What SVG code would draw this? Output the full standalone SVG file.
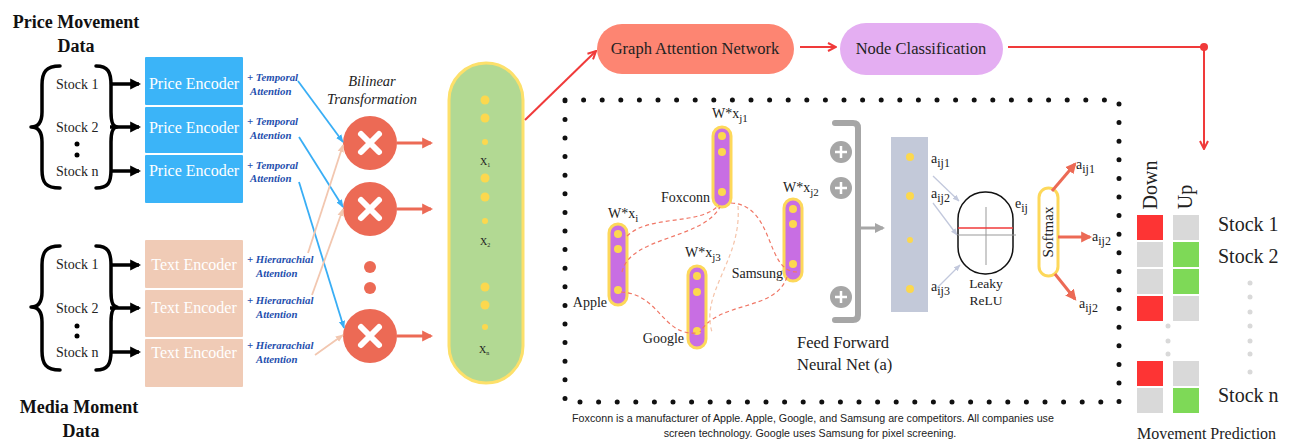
<svg xmlns="http://www.w3.org/2000/svg" width="1290" height="440" viewBox="0 0 1290 440">
<style>
.serif{font-family:"Liberation Serif","DejaVu Serif",serif;fill:#222}
.title{font-family:"Liberation Serif",serif;font-weight:bold;font-size:18px;fill:#111;text-anchor:middle}
.stk{font-family:"Liberation Serif",serif;font-size:14px;fill:#222}
.enc{font-family:"Liberation Serif",serif;font-size:16px;fill:#fff;text-anchor:middle}
.att{font-family:"Liberation Serif",serif;font-size:10.8px;font-weight:bold;font-style:italic;fill:#1f4fae}
.brace{fill:none;stroke:#000;stroke-width:3.5;stroke-linecap:round;stroke-linejoin:round}
.blk{stroke:#000;stroke-width:3.5;fill:none}
.blue{stroke:#39aef5;stroke-width:1.8;fill:none}
.peach{stroke:#f2c7b0;stroke-width:1.8;fill:none}
.coral{stroke:#ec6a55;stroke-width:3;fill:none}
.red{stroke:#f03a3a;stroke-width:2;fill:none}
.ydot{fill:#fcd84e}
.vec{fill:#c86ee3;stroke:#fdd85a;stroke-width:3}
.lbl{font-family:"Liberation Serif",serif;font-size:14px;fill:#222}
.dash{fill:none;stroke:#f07766;stroke-width:1.2;stroke-dasharray:4 3}
.dashl{fill:none;stroke:#f5c4aa;stroke-width:1.2;stroke-dasharray:4 3}
.gdot{fill:#d9d9d9}
</style>
<defs>
<marker id="mBlk" viewBox="0 0 10 10" refX="8" refY="5" markerWidth="11" markerHeight="12" markerUnits="userSpaceOnUse" orient="auto"><path d="M0,0 L10,5 L0,10 z" fill="#000"/></marker>
<marker id="mBlue" viewBox="0 0 10 10" refX="9" refY="5" markerWidth="8" markerHeight="8" markerUnits="userSpaceOnUse" orient="auto"><path d="M0,1 L10,5 L0,9 z" fill="#39aef5"/></marker>
<marker id="mPeach" viewBox="0 0 10 10" refX="9" refY="5" markerWidth="8" markerHeight="8" markerUnits="userSpaceOnUse" orient="auto"><path d="M0,1 L10,5 L0,9 z" fill="#f2c7b0"/></marker>
<marker id="mCoral" viewBox="0 0 10 10" refX="8" refY="5" markerWidth="11" markerHeight="12" markerUnits="userSpaceOnUse" orient="auto"><path d="M0,0 L10,5 L0,10 z" fill="#ec6a55"/></marker>
<marker id="mRed" viewBox="0 0 10 10" refX="9" refY="5" markerWidth="10" markerHeight="10" markerUnits="userSpaceOnUse" orient="auto"><path d="M1,1 L9,5 L1,9" fill="none" stroke="#f03a3a" stroke-width="2"/></marker>
<marker id="mGray" viewBox="0 0 10 10" refX="8" refY="5" markerWidth="10" markerHeight="12" markerUnits="userSpaceOnUse" orient="auto"><path d="M0,0 L10,5 L0,10 z" fill="#a6a6a6"/></marker>
<marker id="mLb" viewBox="0 0 10 10" refX="9" refY="5" markerWidth="7" markerHeight="7" markerUnits="userSpaceOnUse" orient="auto"><path d="M0,1 L10,5 L0,9 z" fill="#c2c8dc"/></marker>
</defs>

<!-- Titles -->
<g id="price-title"><text class="title" x="76" y="28">Price Movement</text><text class="title" x="76" y="52">Data</text></g>
<g id="media-title"><text class="title" x="79" y="413">Media Moment</text><text class="title" x="81" y="437">Data</text></g>

<!-- Price inputs -->
<g id="price-stocks">
<path class="brace" d="M60 66 C46 66 42 72 42 85 L42 112 C42 122 38 127 31 127 C38 127 42 132 42 142 L42 170 C42 183 46 188 60 188"/>
<path class="brace" d="M96 66 C108 66 111 72 111 85 L111 112 C111 122 113 127 117 127 C113 127 111 132 111 142 L111 170 C111 183 108 188 96 188"/>
<text class="stk" x="56" y="89">Stock 1</text>
<text class="stk" x="56" y="132">Stock 2</text>
<circle cx="77" cy="144" r="2.5"/><circle cx="77" cy="155" r="2.5"/>
<text class="stk" x="56" y="176">Stock n</text>
</g>
<g id="text-stocks">
<path class="brace" d="M60 246 C46 246 42 252 42 265 L42 292 C42 302 38 307 31 307 C38 307 42 312 42 322 L42 351 C42 364 46 370 60 370"/>
<path class="brace" d="M96 246 C108 246 111 252 111 265 L111 292 C111 302 113 307 117 307 C113 307 111 312 111 322 L111 351 C111 364 108 370 96 370"/>
<text class="stk" x="56" y="269">Stock 1</text>
<text class="stk" x="56" y="313">Stock 2</text>
<circle cx="77" cy="326" r="2.5"/><circle cx="77" cy="336" r="2.5"/>
<text class="stk" x="56" y="357">Stock n</text>
</g>

<!-- Encoders -->
<g id="price-encoders">
<rect x="145" y="57" width="98" height="48" fill="#3bb4f8" rx="1"/>
<rect x="145" y="107" width="98" height="46" fill="#3bb4f8" rx="1"/>
<rect x="145" y="155" width="98" height="48" fill="#3bb4f8" rx="1"/>
<text class="enc" x="194" y="89">Price Encoder</text>
<text class="enc" x="194" y="133">Price Encoder</text>
<text class="enc" x="194" y="176">Price Encoder</text>
</g>
<g id="text-encoders">
<rect x="145" y="240" width="98" height="48" fill="#f0cbb6" rx="1"/>
<rect x="145" y="290" width="98" height="47" fill="#f0cbb6" rx="1"/>
<rect x="145" y="339" width="98" height="48" fill="#f0cbb6" rx="1"/>
<text class="enc" x="194" y="270">Text Encoder</text>
<text class="enc" x="194" y="313">Text Encoder</text>
<text class="enc" x="194" y="358">Text Encoder</text>
</g>

<!-- Attention labels -->
<g id="temporal-labels">
<text class="att" x="247" y="81">+ Temporal</text><text class="att" x="250" y="95">Attention</text>
<text class="att" x="247" y="125">+ Temporal</text><text class="att" x="250" y="139">Attention</text>
<text class="att" x="247" y="169">+ Temporal</text><text class="att" x="250" y="182">Attention</text>
</g>
<g id="hier-labels">
<text class="att" x="247" y="263">+ Hierarachial</text><text class="att" x="256" y="277">Attention</text>
<text class="att" x="247" y="304">+ Hierarachial</text><text class="att" x="256" y="318">Attention</text>
<text class="att" x="247" y="349">+ Hierarachial</text><text class="att" x="256" y="363">Attention</text>
</g>

<!-- Bilinear -->
<g id="bilinear">
<text class="serif" x="372" y="86" font-size="14.5" font-style="italic" text-anchor="middle">Bilinear</text>
<text class="serif" x="372" y="104" font-size="14.5" font-style="italic" text-anchor="middle">Transformation</text>
<g id="mult1"><circle cx="370" cy="143" r="27" fill="#ec6a55"/><path d="M361 134 L379 152 M379 134 L361 152" stroke="#fff" stroke-width="6" stroke-linecap="round"/></g>
<g id="mult2"><circle cx="370" cy="209" r="27" fill="#ec6a55"/><path d="M361 200 L379 218 M379 200 L361 218" stroke="#fff" stroke-width="6" stroke-linecap="round"/></g>
<g id="mult3"><circle cx="370" cy="336" r="27" fill="#ec6a55"/><path d="M361 327 L379 345 M379 327 L361 345" stroke="#fff" stroke-width="6" stroke-linecap="round"/></g>
<circle cx="370" cy="267" r="6" fill="#ec6a55"/><circle cx="370" cy="288" r="6" fill="#ec6a55"/>
</g>

<!-- Green embedding pill -->
<g id="embedding">
<rect x="449" y="63" width="74" height="320" rx="37" fill="#b2d993" stroke="#fde06a" stroke-width="3"/>
<circle class="ydot" cx="485" cy="100" r="4.5"/><circle class="ydot" cx="485" cy="118" r="4.5"/><circle class="ydot" cx="485" cy="142" r="3"/>
<circle class="ydot" cx="485" cy="178" r="4.5"/><circle class="ydot" cx="485" cy="197" r="4.5"/><circle class="ydot" cx="485" cy="221" r="3"/>
<circle class="ydot" cx="485" cy="287" r="4.5"/><circle class="ydot" cx="485" cy="305" r="4.5"/><circle class="ydot" cx="485" cy="327" r="3"/>
<text class="serif" x="480" y="165" font-size="10">X<tspan font-size="6" dy="2">1</tspan></text>
<text class="serif" x="480" y="245" font-size="10">X<tspan font-size="6" dy="2">2</tspan></text>
<text class="serif" x="479" y="353" font-size="10">X<tspan font-size="6" dy="2">n</tspan></text>
</g>

<!-- Top pills -->
<g id="gat"><rect x="597" y="24" width="197" height="50" rx="25" fill="#fd8572"/><text class="serif" x="695" y="54" font-size="16.5" text-anchor="middle">Graph Attention Network</text></g>
<g id="node-class"><rect x="840" y="23" width="163" height="52" rx="26" fill="#e4aef2"/><text class="serif" x="921" y="54" font-size="16.5" text-anchor="middle">Node Classification</text></g>

<!-- Dotted box -->
<rect id="gat-detail-box" x="565" y="100" width="554" height="302" fill="none" stroke="#111" stroke-width="5" stroke-linecap="round" stroke-dasharray="0 18.6"/>

<!-- vectors -->
<g id="apple"><rect class="vec" x="609" y="224" width="18" height="81" rx="9"/><circle class="ydot" cx="618" cy="234" r="4"/><circle class="ydot" cx="618" cy="249" r="4"/><circle class="ydot" cx="618" cy="290" r="4"/>
<text class="lbl" x="608" y="218" font-size="13.5">W*x<tspan font-size="11" dy="4">i</tspan></text><text class="lbl" x="607" y="307" text-anchor="end">Apple</text></g>
<g id="foxconn"><rect class="vec" x="713" y="127" width="18" height="80" rx="9"/><circle class="ydot" cx="722" cy="136" r="4"/><circle class="ydot" cx="722" cy="152" r="4"/><circle class="ydot" cx="722" cy="192" r="4"/>
<text class="lbl" x="712" y="118" font-size="13.5">W*x<tspan font-size="11" dy="4">j1</tspan></text><text class="lbl" x="710" y="202" text-anchor="end">Foxconn</text></g>
<g id="google"><rect class="vec" x="688" y="266" width="18" height="82" rx="9"/><circle class="ydot" cx="697" cy="276" r="4"/><circle class="ydot" cx="697" cy="292" r="4"/><circle class="ydot" cx="697" cy="331" r="4"/>
<text class="lbl" x="685" y="257" font-size="13.5">W*x<tspan font-size="11" dy="4">j3</tspan></text><text class="lbl" x="684" y="343" text-anchor="end">Google</text></g>
<g id="samsung"><rect class="vec" x="784" y="199" width="18" height="82" rx="9"/><circle class="ydot" cx="793" cy="209" r="4"/><circle class="ydot" cx="793" cy="224" r="4"/><circle class="ydot" cx="793" cy="264" r="4"/>
<text class="lbl" x="783" y="192" font-size="13.5">W*x<tspan font-size="11" dy="4">j2</tspan></text><text class="lbl" x="783" y="278" text-anchor="end">Samsung</text></g>

<!-- Feed forward -->
<g id="feed-forward">
<path d="M835 123 L853 123 Q858 123 858 128 L858 315 Q858 320 853 320 L835 320" fill="none" stroke="#a6a6a6" stroke-width="6" stroke-linecap="round"/>
<g stroke="#fff" stroke-width="2.5"><circle cx="841" cy="152" r="11" fill="#a6a6a6" stroke="none"/><path d="M835 152 H847 M841 146 V158"/>
<circle cx="841" cy="188" r="11" fill="#a6a6a6" stroke="none"/><path d="M835 188 H847 M841 182 V194"/>
<circle cx="841" cy="297" r="11" fill="#a6a6a6" stroke="none"/><path d="M835 297 H847 M841 291 V303"/></g>
<text class="serif" x="797" y="348" font-size="16.5">Feed Forward</text>
<text class="serif" x="797" y="370" font-size="16.5">Neural Net (a)</text>
</g>
<g id="attn-vector">
<rect x="891" y="137" width="37" height="175" fill="#c3c9d9"/>
<circle class="ydot" cx="910" cy="157" r="4"/><circle class="ydot" cx="910" cy="196" r="4"/><circle class="ydot" cx="910" cy="240" r="3"/><circle class="ydot" cx="910" cy="289" r="4"/>
<text class="lbl" x="931" y="163" font-size="18">a<tspan font-size="12" dy="4">ij1</tspan></text>
<text class="lbl" x="931" y="198" font-size="18">a<tspan font-size="12" dy="4">ij2</tspan></text>
<text class="lbl" x="931" y="291" font-size="18">a<tspan font-size="12" dy="4">ij3</tspan></text>
</g>
<g id="leaky-relu">
<rect x="958" y="192" width="55" height="82" rx="27" fill="#fff" stroke="#111" stroke-width="1.5"/>
<line x1="986" y1="207" x2="986" y2="265" stroke="#999" stroke-width="1"/>
<line x1="958" y1="235" x2="1016" y2="235" stroke="#999" stroke-width="1"/>
<line x1="958" y1="228" x2="1013" y2="228" stroke="#f03a3a" stroke-width="1.3"/>
<text class="lbl" x="1015" y="208" font-size="18">e<tspan font-size="12" dy="4">ij</tspan></text>
<text class="serif" x="986" y="288" font-size="13.5" text-anchor="middle">Leaky</text>
<text class="serif" x="986" y="305" font-size="13.5" text-anchor="middle">ReLU</text>
</g>
<g id="softmax">
<rect x="1039" y="188" width="19" height="88" rx="9.5" fill="#fff" stroke="#fdd85a" stroke-width="3"/>
<text class="serif" transform="translate(1053 232) rotate(-90)" font-size="15" text-anchor="middle">Softmax</text>
<text class="lbl" x="1076" y="169" font-size="18">a<tspan font-size="12" dy="4">ij1</tspan></text>
<text class="lbl" x="1092" y="241" font-size="18">a<tspan font-size="12" dy="4">ij2</tspan></text>
<text class="lbl" x="1079" y="308" font-size="18">a<tspan font-size="12" dy="4">ij2</tspan></text>
</g>

<text id="caption" x="813" y="422" font-family="Liberation Sans,Arial,sans-serif" font-size="10.7" fill="#222" text-anchor="middle">Foxconn is a manufacturer of Apple.  Apple, Google, and Samsung are competitors. All companies use</text>
<text x="810" y="437" font-family="Liberation Sans,Arial,sans-serif" font-size="10.7" fill="#222" text-anchor="middle">screen technology. Google uses Samsung for pixel screening.</text>

<!-- Movement prediction -->
<g id="prediction">
<text class="serif" transform="translate(1157 185) rotate(-90)" font-size="20" text-anchor="middle">Down</text>
<text class="serif" transform="translate(1192 197) rotate(-90)" font-size="20" text-anchor="middle">Up</text>
<rect x="1137" y="215" width="26" height="25" fill="#fd3434"/><rect x="1173" y="215" width="26" height="25" fill="#d9d9d9"/>
<rect x="1137" y="242" width="26" height="25" fill="#d9d9d9"/><rect x="1173" y="242" width="26" height="25" fill="#7ed957"/>
<rect x="1137" y="269" width="26" height="25" fill="#d9d9d9"/><rect x="1173" y="269" width="26" height="25" fill="#7ed957"/>
<rect x="1137" y="296" width="26" height="25" fill="#fd3434"/><rect x="1173" y="296" width="26" height="25" fill="#d9d9d9"/>
<rect x="1137" y="361" width="26" height="25" fill="#fd3434"/><rect x="1173" y="361" width="26" height="25" fill="#d9d9d9"/>
<rect x="1137" y="388" width="26" height="25" fill="#d9d9d9"/><rect x="1173" y="388" width="26" height="25" fill="#7ed957"/>
<circle class="gdot" cx="1168" cy="326" r="2.5"/><circle class="gdot" cx="1168" cy="341" r="2.5"/><circle class="gdot" cx="1168" cy="354" r="2.5"/>
<circle class="gdot" cx="1250" cy="283" r="2.5"/><circle class="gdot" cx="1250" cy="297" r="2.5"/><circle class="gdot" cx="1250" cy="312" r="2.5"/><circle class="gdot" cx="1250" cy="326" r="2.5"/><circle class="gdot" cx="1250" cy="341" r="2.5"/><circle class="gdot" cx="1250" cy="354" r="2.5"/><circle class="gdot" cx="1250" cy="372" r="2.5"/>
<text class="serif" x="1218" y="231" font-size="20">Stock 1</text>
<text class="serif" x="1218" y="263" font-size="20">Stock 2</text>
<text class="serif" x="1218" y="402" font-size="20">Stock n</text>
<text class="serif" x="1137" y="439" font-size="16">Movement Prediction</text>
</g>

<!-- Connectors -->
<g id="connectors">
<line class="blk" x1="110" y1="84" x2="139" y2="84" marker-end="url(#mBlk)"/>
<line class="blk" x1="110" y1="127" x2="139" y2="127" marker-end="url(#mBlk)"/>
<line class="blk" x1="110" y1="171" x2="139" y2="171" marker-end="url(#mBlk)"/>
<line class="blk" x1="110" y1="265" x2="139" y2="265" marker-end="url(#mBlk)"/>
<line class="blk" x1="110" y1="308" x2="139" y2="308" marker-end="url(#mBlk)"/>
<line class="blk" x1="110" y1="352" x2="139" y2="352" marker-end="url(#mBlk)"/>
<line class="blue" x1="298" y1="81" x2="343" y2="142" marker-end="url(#mBlue)"/>
<line class="blue" x1="299" y1="137" x2="343" y2="207" marker-end="url(#mBlue)"/>
<line class="blue" x1="299" y1="182" x2="344" y2="328" marker-end="url(#mBlue)"/>
<line class="peach" x1="308" y1="253" x2="343" y2="145" marker-end="url(#mPeach)"/>
<line class="peach" x1="312" y1="295" x2="343" y2="209" marker-end="url(#mPeach)"/>
<line class="peach" x1="315" y1="355" x2="343" y2="335" marker-end="url(#mPeach)"/>
<line class="coral" x1="397" y1="143" x2="431" y2="143" marker-end="url(#mCoral)"/>
<line class="coral" x1="397" y1="209" x2="431" y2="209" marker-end="url(#mCoral)"/>
<line class="coral" x1="397" y1="336" x2="431" y2="336" marker-end="url(#mCoral)"/>
<line class="red" x1="525" y1="120" x2="596" y2="51" marker-end="url(#mRed)"/>
<line class="red" x1="800" y1="47" x2="836" y2="47" marker-end="url(#mRed)"/>
<path class="red" d="M1008 47 H1204 V149" marker-end="url(#mRed)"/>
<circle cx="1204" cy="47" r="4" fill="#f03a3a"/>
<path class="dash" d="M627 236 C650 214 700 226 719 205"/>
<path class="dash" d="M622 272 C630 236 702 240 720 207"/>
<path class="dash" d="M621 292 C660 294 662 336 697 333"/>
<path class="dash" d="M731 203 C775 205 765 272 797 272"/>
<path class="dash" d="M787 277 C775 312 720 300 700 332"/>
<path class="dashl" d="M738 206 C742 260 700 292 712 332"/>
<line x1="858" y1="228" x2="883" y2="228" stroke="#a6a6a6" stroke-width="3" marker-end="url(#mGray)"/>
<line x1="933" y1="176" x2="959" y2="201" stroke="#c2c8dc" stroke-width="1.3" marker-end="url(#mLb)"/>
<line x1="933" y1="203" x2="957" y2="235" stroke="#c2c8dc" stroke-width="1.3" marker-end="url(#mLb)"/>
<line x1="937" y1="288" x2="960" y2="265" stroke="#c2c8dc" stroke-width="1.3" marker-end="url(#mLb)"/>
<line class="coral" x1="1052" y1="191" x2="1075" y2="164" stroke-width="3.5" marker-end="url(#mCoral)"/>
<line class="coral" x1="1058" y1="237" x2="1090" y2="237" stroke-width="3.5" marker-end="url(#mCoral)"/>
<line class="coral" x1="1055" y1="274" x2="1075" y2="299" stroke-width="3.5" marker-end="url(#mCoral)"/>
</g>
</svg>
